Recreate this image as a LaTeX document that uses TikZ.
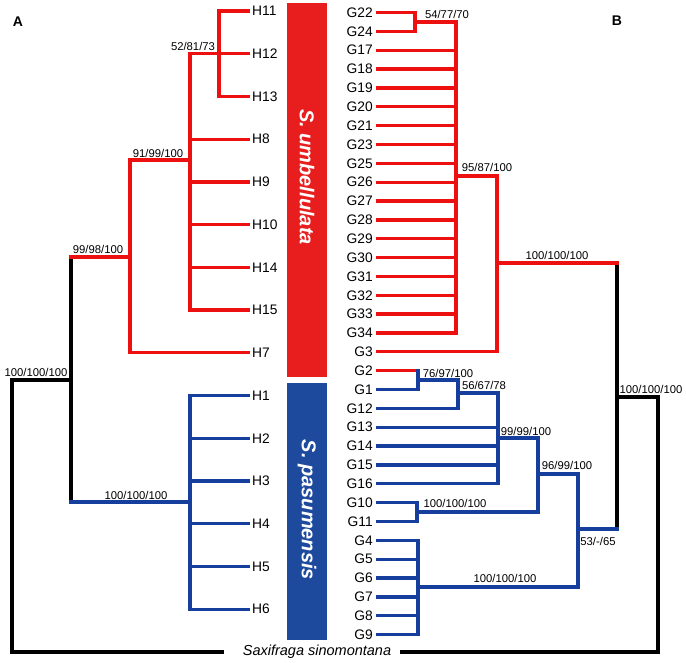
\documentclass[tikz,border=0pt]{standalone}
\usepackage{fontspec}
\setmainfont{Liberation Sans}
\usetikzlibrary{calc}
\definecolor{tred}{RGB}{236,16,16}
\definecolor{barred}{RGB}{232,30,30}
\definecolor{tblue}{RGB}{22,62,156}
\definecolor{barblue}{RGB}{30,74,158}
\tikzset{
  br/.style={draw=#1, line width=3.3pt, line cap=rect, line join=miter},
  rd/.style={br=tred},
  bl/.style={br=tblue},
  bk/.style={br=black},
  leafH/.style={anchor=west, inner sep=0pt, font=\fontsize{13.8}{16}\selectfont},
  leafG/.style={anchor=east, inner sep=0pt, font=\fontsize{13.8}{16}\selectfont},
  bs/.style={inner sep=0pt, font=\fontsize{11.3}{13}\selectfont},
  panel/.style={inner sep=0pt, font=\fontsize{14}{16}\selectfont\bfseries},
  bartext/.style={inner sep=0pt, rotate=-90, text=white, font=\fontsize{20}{22}\selectfont\bfseries\itshape}
}
\begin{document}
\begin{tikzpicture}[x=1pt,y=-1pt]
\useasboundingbox (0,0) rectangle (686,662);
% panel letters
\node[panel] (pA) at (18,22) {A};
\node[panel] (pB) at (617,21) {B};
% bars
\fill[barred] (287,3) rectangle (327,377);
\fill[barblue] (287,383) rectangle (327,640);
\node[bartext] (su) at (307,177) {S. umbellulata};
\node[bartext] (sp) at (307,510) {S. pasumensis};
% left tips
\foreach \n [count=\i from 0] in {11,12,13,8,9,10,14,15,7,1,2,3,4,5,6} {
  \coordinate (H\n) at (248,{11+\i*42.73});
  \node[leafH] (tH\n) at (252,{11+\i*42.73}) {H\n};
}
% right tips
\foreach \n [count=\i from 0] in {22,24,17,18,19,20,21,23,25,26,27,28,29,30,31,32,33,34,3,2,1,12,13,14,15,16,10,11,4,5,6,7,8,9} {
  \coordinate (G\n) at (378,{12.5+\i*18.85});
  \node[leafG] (tG\n) at (373,{12.5+\i*18.85}) {G\n};
}
% outgroup
\coordinate (Og1) at (222,652);
\coordinate (Og2) at (402,652);
\node[inner sep=0pt, font=\fontsize{14.5}{16}\selectfont\itshape] (og) at (317,652) {Saxifraga sinomontana};

% ---------- tree A ----------
\coordinate (a1) at (219,53);
\coordinate (a2) at (190,160);
\coordinate (a3) at (130,257);
\coordinate (a4) at (190,502);
\coordinate (a5) at (71,380);
\coordinate (a6) at (12,380);
\draw[rd] (a1) |- (H11);
\draw[rd] (a1) |- (H13);
\draw[rd] (a2) |- (H12);
\foreach \h in {8,9,10,14,15} \draw[rd] (a2) |- (H\h);
\draw[rd] (a3) |- (a2);
\draw[rd] (a3) |- (H7);
\foreach \h in {1,2,3,4,5,6} \draw[bl] (a4) |- (H\h);
\draw[bk] (a5 |- a3) -- (a5 |- a4);
\draw[rd] (a5 |- a3) -- (a3);
\draw[bl] (a5 |- a4) -- (a4);
\draw[bk] (a6) -- (a5);
\draw[bk] (a6) |- (Og1);
\node[bs] (la1) at (193,46) {52/81/73};
\node[bs] (la2) at (158,153) {91/99/100};
\node[bs] (la3) at (98,249) {99/98/100};
\node[bs] (la4) at (136,495) {100/100/100};
\node[bs] (la5) at (36,372) {100/100/100};

% ---------- tree B ----------
\coordinate (b1) at (415,22);
\coordinate (b2) at (456,176);
\coordinate (b3) at (497,263);
\coordinate (b4) at (418,380);
\coordinate (b5) at (458,393);
\coordinate (b6) at (498,438);
\coordinate (b7) at (417,512);
\coordinate (b8) at (538,474);
\coordinate (b9) at (418,587);
\coordinate (b10) at (578,529);
\coordinate (b11) at (617,397);
\coordinate (b12) at (658,397);
\draw[rd] (b1) |- (G22);
\draw[rd] (b1) |- (G24);
\draw[rd] (b2) |- (b1);
\foreach \g in {17,18,19,20,21,23,25,26,27,28,29,30,31,32,33,34} \draw[rd] (b2) |- (G\g);
\draw[rd] (b3) |- (b2);
\draw[rd] (b3) |- (G3);
\draw[rd] (G2) -- (b4 |- G2);
\draw[bl] (b4) -- (b4 |- G2);
\draw[bl] (b4) |- (G1);
\draw[bl] (b5) |- (b4);
\draw[bl] (b5) |- (G12);
\draw[bl] (b6) |- (b5);
\foreach \g in {13,14,15,16} \draw[bl] (b6) |- (G\g);
\draw[bl] (b7) |- (G10);
\draw[bl] (b7) |- (G11);
\draw[bl] (b8) |- (b6);
\draw[bl] (b8) |- (b7);
\foreach \g in {4,5,6,7,8,9} \draw[bl] (b9) |- (G\g);
\draw[bl] (b10) |- (b8);
\draw[bl] (b10) |- (b9);
\draw[bk] (b11 |- b3) -- (b11 |- b10);
\draw[rd] (b11 |- b3) -- (b3);
\draw[bl] (b11 |- b10) -- (b10);
\draw[bk] (b12) -- (b11);
\draw[bk] (b12) |- (Og2);
\node[bs] (lb1) at (447,14) {54/77/70};
\node[bs] (lb2) at (487,167) {95/87/100};
\node[bs] (lb3) at (557,255) {100/100/100};
\node[bs] (lb4) at (448,373) {76/97/100};
\node[bs] (lb5) at (484,385) {56/67/78};
\node[bs] (lb6) at (526,431) {99/99/100};
\node[bs] (lb7) at (567,465) {96/99/100};
\node[bs] (lb8) at (455,503) {100/100/100};
\node[bs] (lb9) at (598,541) {53/-/65};
\node[bs] (lb10) at (505,578) {100/100/100};
\node[bs] (lb11) at (651,389) {100/100/100};
\end{tikzpicture}
\end{document}
